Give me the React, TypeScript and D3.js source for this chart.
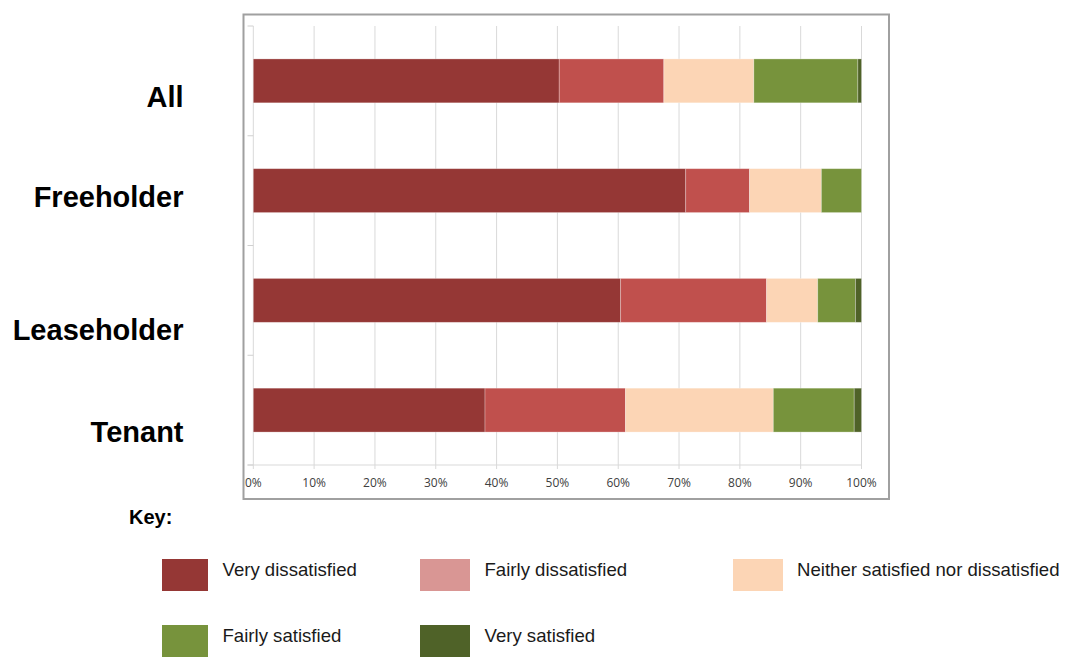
import React from "react";
import * as d3 from "d3";

const categories = ["All", "Freeholder", "Leaseholder", "Tenant"];
const seriesNames = [
  "Very dissatisfied",
  "Fairly dissatisfied",
  "Neither satisfied nor dissatisfied",
  "Fairly satisfied",
  "Very satisfied",
];
const veryDissatisfied = [50.3, 71.1, 60.4, 38.1];
const fairlyDissatisfied = [17.2, 10.5, 24.0, 23.1];
const neither = [14.8, 11.8, 8.4, 24.3];
const fairlySatisfied = [17.1, 6.6, 6.2, 13.3];
const verySatisfied = [0.6, 0.0, 1.0, 1.2];
const tickValues = [0, 10, 20, 30, 40, 50, 60, 70, 80, 90, 100];

const barColors = ["#953735", "#C0504D", "#FCD5B5", "#77933C", "#4F6228"];
const legendColors = ["#953735", "#D99694", "#FCD5B5", "#77933C", "#4F6228"];

// layout
const W = 1071;
const H = 657;
const plot = { left: 253.3, right: 861.5, top: 26, bottom: 465 };
const labelDy = [25.8, 16.1, 39.6, 31.6];
const legendSlots = [
  { x: 162, y: 559, w: 46, tx: 222.5 },
  { x: 420, y: 559, w: 50, tx: 484.5 },
  { x: 733, y: 559, w: 50, tx: 797 },
  { x: 162, y: 625, w: 46, tx: 222.5 },
  { x: 420, y: 625, w: 50, tx: 484.5 },
];

export default function App() {
  const seriesValues = [veryDissatisfied, fairlyDissatisfied, neither, fairlySatisfied, verySatisfied];
  const table = categories.map((c, i) => {
    const row: any = { cat: c };
    seriesNames.forEach((s, j) => (row[s] = seriesValues[j][i]));
    return row;
  });
  const stacked = d3.stack<any>().keys(seriesNames)(table);

  const x = d3.scaleLinear().domain([0, 100]).range([plot.left, plot.right]);
  const y = d3
    .scaleBand<string>()
    .domain(categories)
    .range([plot.top, plot.bottom])
    .paddingInner(0.6)
    .paddingOuter(0.3);
  const step = y.step();
  const catTicks = d3.range(categories.length + 1).map((i) => plot.top + i * step);

  return (
    <svg
      width={W}
      height={H}
      style={{ position: "absolute", left: 0, top: 0, background: "#fff" }}
      fontFamily="'Liberation Sans', Arial, sans-serif"
    >
      {/* frame */}
      <rect x={243.5} y={14.5} width={645.5} height={484.5} fill="#fff" stroke="#a0a0a0" strokeWidth={2} />
      {/* gridlines */}
      {tickValues.map((t) => (
        <line key={"g" + t} x1={x(t)} x2={x(t)} y1={plot.top} y2={plot.bottom + 4} stroke="#d9d9d9" strokeWidth={1} />
      ))}
      {/* x axis line */}
      <line x1={247.5} x2={x(100)} y1={plot.bottom} y2={plot.bottom} stroke="#d9d9d9" strokeWidth={1} />
      {/* category ticks */}
      {catTicks.map((t, i) => (
        <line key={"c" + i} x1={247.5} x2={x(0)} y1={t} y2={t} stroke="#d0d0d0" strokeWidth={1} />
      ))}
      {/* bars */}
      {stacked.map((s, si) =>
        s.map((d, di) => {
          const w = x(d[1]) - x(d[0]);
          if (w <= 0) return null;
          return (
            <rect
              key={si + "-" + di}
              x={x(d[0])}
              y={y(categories[di])}
              width={w}
              height={y.bandwidth()}
              fill={barColors[si]}
              stroke="rgba(255,255,255,0.35)"
              strokeWidth={0.8}
            />
          );
        })
      )}
      {/* x tick labels */}
      {tickValues.map((t) => (
        <text
          key={"t" + t}
          x={x(t)}
          y={487}
          textAnchor="middle"
          fontFamily="'Open Sans', sans-serif"
          fontSize={12}
          fill="#404040"
        >
          {t + "%"}
        </text>
      ))}
      {/* category labels */}
      {categories.map((c, i) => (
        <text
          key={"l" + c}
          x={183.5}
          y={(y(c) as number) + y.bandwidth() / 2 + labelDy[i]}
          textAnchor="end"
          fontWeight="bold"
          fontSize={29}
          fill="#000"
        >
          {c}
        </text>
      ))}
      {/* key */}
      <text x={129} y={524} fontWeight="bold" fontSize={20} fill="#000">
        Key:
      </text>
      {seriesNames.map((s, i) => {
        const slot = legendSlots[i];
        return (
          <g key={"lg" + i}>
            <rect x={slot.x} y={slot.y} width={slot.w} height={32} fill={legendColors[i]} />
            <text x={slot.tx} y={slot.y + 16.7} fontSize={18.6} fill="#1a1a1a">
              {s}
            </text>
          </g>
        );
      })}
    </svg>
  );
}
